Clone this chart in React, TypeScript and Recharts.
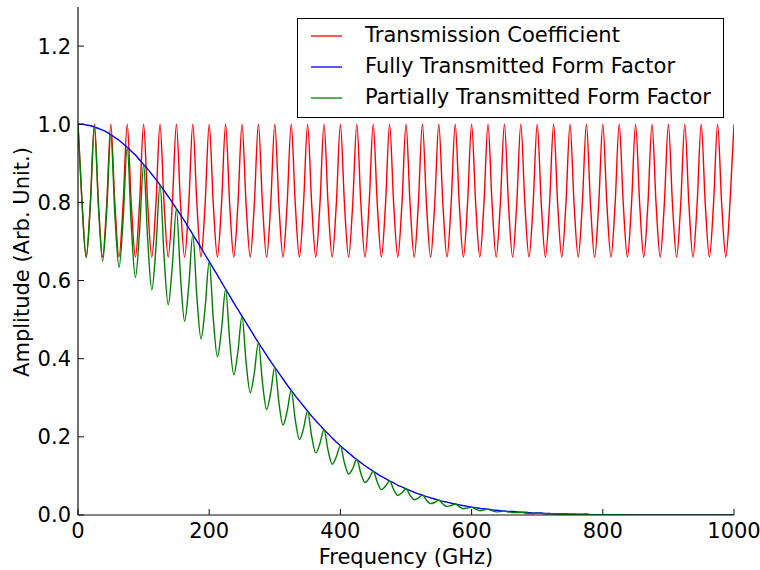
import React from 'react';
import { LineChart, Line, XAxis, YAxis, Legend } from 'recharts';

const FONT = '"DejaVu Sans", "Bitstream Vera Sans", sans-serif';
const FS = 21;

// Frequency grid (GHz)
const frequencyGHz = [
  0, 6.25, 12.5, 18.75, 25, 31.25, 37.5, 43.75,
  50, 56.25, 62.5, 68.75, 75, 81.25, 87.5, 93.75,
  100, 106.25, 112.5, 118.75, 125, 131.25, 137.5, 143.75,
  150, 156.25, 162.5, 168.75, 175, 181.25, 187.5, 193.75,
  200, 206.25, 212.5, 218.75, 225, 231.25, 237.5, 243.75,
  250, 256.25, 262.5, 268.75, 275, 281.25, 287.5, 293.75,
  300, 306.25, 312.5, 318.75, 325, 331.25, 337.5, 343.75,
  350, 356.25, 362.5, 368.75, 375, 381.25, 387.5, 393.75,
  400, 406.25, 412.5, 418.75, 425, 431.25, 437.5, 443.75,
  450, 456.25, 462.5, 468.75, 475, 481.25, 487.5, 493.75,
  500, 506.25, 512.5, 518.75, 525, 531.25, 537.5, 543.75,
  550, 556.25, 562.5, 568.75, 575, 581.25, 587.5, 593.75,
  600, 606.25, 612.5, 618.75, 625, 631.25, 637.5, 643.75,
  650, 656.25, 662.5, 668.75, 675, 681.25, 687.5, 693.75,
  700, 706.25, 712.5, 718.75, 725, 731.25, 737.5, 743.75,
  750, 756.25, 762.5, 768.75, 775, 781.25, 787.5, 793.75,
  800, 806.25, 812.5, 818.75, 825, 831.25, 837.5, 843.75,
  850, 856.25, 862.5, 868.75, 875, 881.25, 887.5, 893.75,
  900, 906.25, 912.5, 918.75, 925, 931.25, 937.5, 943.75,
  950, 956.25, 962.5, 968.75, 975, 981.25, 987.5, 993.75,
  1000,
];

// Transmission Coefficient (red)
const transmission = [
  1, 0.795, 0.66, 0.795, 1, 0.795, 0.66, 0.795,
  1, 0.795, 0.66, 0.795, 1, 0.795, 0.66, 0.795,
  1, 0.795, 0.66, 0.795, 1, 0.795, 0.66, 0.795,
  1, 0.795, 0.66, 0.795, 1, 0.795, 0.66, 0.795,
  1, 0.795, 0.66, 0.795, 1, 0.795, 0.66, 0.795,
  1, 0.795, 0.66, 0.795, 1, 0.795, 0.66, 0.795,
  1, 0.795, 0.66, 0.795, 1, 0.795, 0.66, 0.795,
  1, 0.795, 0.66, 0.795, 1, 0.795, 0.66, 0.795,
  1, 0.795, 0.66, 0.795, 1, 0.795, 0.66, 0.795,
  1, 0.795, 0.66, 0.795, 1, 0.795, 0.66, 0.795,
  1, 0.795, 0.66, 0.795, 1, 0.795, 0.66, 0.795,
  1, 0.795, 0.66, 0.795, 1, 0.795, 0.66, 0.795,
  1, 0.795, 0.66, 0.795, 1, 0.795, 0.66, 0.795,
  1, 0.795, 0.66, 0.795, 1, 0.795, 0.66, 0.795,
  1, 0.795, 0.66, 0.795, 1, 0.795, 0.66, 0.795,
  1, 0.795, 0.66, 0.795, 1, 0.795, 0.66, 0.795,
  1, 0.795, 0.66, 0.795, 1, 0.795, 0.66, 0.795,
  1, 0.795, 0.66, 0.795, 1, 0.795, 0.66, 0.795,
  1, 0.795, 0.66, 0.795, 1, 0.795, 0.66, 0.795,
  1, 0.795, 0.66, 0.795, 1, 0.795, 0.66, 0.795,
  1,
];

// Fully Transmitted Form Factor (blue)
const fullFormFactor = [
  1.0, 1.0, 0.998, 0.996, 0.993, 0.989, 0.985, 0.98,
  0.973, 0.966, 0.959, 0.95, 0.941, 0.931, 0.921, 0.909,
  0.897, 0.885, 0.872, 0.859, 0.845, 0.83, 0.815, 0.8,
  0.784, 0.768, 0.752, 0.735, 0.718, 0.701, 0.684, 0.666,
  0.649, 0.631, 0.614, 0.596, 0.578, 0.561, 0.543, 0.526,
  0.509, 0.492, 0.475, 0.458, 0.441, 0.425, 0.409, 0.393,
  0.378, 0.363, 0.348, 0.333, 0.319, 0.305, 0.292, 0.279,
  0.266, 0.253, 0.241, 0.23, 0.218, 0.208, 0.197, 0.187,
  0.177, 0.168, 0.159, 0.15, 0.142, 0.134, 0.126, 0.119,
  0.112, 0.105, 0.099, 0.093, 0.087, 0.082, 0.076, 0.072,
  0.067, 0.063, 0.058, 0.054, 0.051, 0.047, 0.044, 0.041,
  0.038, 0.035, 0.033, 0.03, 0.028, 0.026, 0.024, 0.022,
  0.02, 0.019, 0.017, 0.016, 0.015, 0.013, 0.012, 0.011,
  0.01, 0.009, 0.009, 0.008, 0.007, 0.007, 0.006, 0.005,
  0.005, 0.005, 0.004, 0.004, 0.003, 0.003, 0.003, 0.003,
  0.002, 0.002, 0.002, 0.002, 0.002, 0.001, 0.001, 0.001,
  0.001, 0.001, 0.001, 0.001, 0.001, 0.001, 0.001, 0,
  0, 0, 0, 0, 0, 0, 0, 0,
  0, 0, 0, 0, 0, 0, 0, 0,
  0, 0, 0, 0, 0, 0, 0, 0,
  0,
];

// Partially Transmitted Form Factor (green)
const partialFormFactor = [
  1.0, 0.795, 0.659, 0.792, 0.993, 0.787, 0.65, 0.779,
  0.973, 0.768, 0.633, 0.755, 0.941, 0.74, 0.608, 0.723,
  0.897, 0.704, 0.576, 0.683, 0.845, 0.66, 0.538, 0.636,
  0.784, 0.61, 0.496, 0.584, 0.718, 0.557, 0.451, 0.53,
  0.649, 0.502, 0.405, 0.474, 0.578, 0.446, 0.359, 0.418,
  0.509, 0.391, 0.313, 0.364, 0.441, 0.338, 0.27, 0.313,
  0.378, 0.288, 0.23, 0.265, 0.319, 0.243, 0.193, 0.221,
  0.266, 0.201, 0.159, 0.183, 0.218, 0.165, 0.13, 0.149,
  0.177, 0.133, 0.105, 0.119, 0.142, 0.106, 0.083, 0.094,
  0.112, 0.084, 0.065, 0.074, 0.087, 0.065, 0.05, 0.057,
  0.067, 0.05, 0.039, 0.043, 0.051, 0.038, 0.029, 0.032,
  0.038, 0.028, 0.022, 0.024, 0.028, 0.021, 0.016, 0.018,
  0.02, 0.015, 0.011, 0.013, 0.015, 0.011, 0.008, 0.009,
  0.01, 0.008, 0.006, 0.006, 0.007, 0.005, 0.004, 0.004,
  0.005, 0.004, 0.003, 0.003, 0.003, 0.002, 0.002, 0.002,
  0.002, 0.002, 0.001, 0.001, 0.002, 0.001, 0.001, 0.001,
  0.001, 0.001, 0.001, 0.001, 0.001, 0, 0, 0,
  0, 0, 0, 0, 0, 0, 0, 0,
  0, 0, 0, 0, 0, 0, 0, 0,
  0, 0, 0, 0, 0, 0, 0, 0,
  0,
];

const xTicks = [0, 200, 400, 600, 800, 1000];
const yTicks = [0, 0.2, 0.4, 0.6, 0.8, 1.0, 1.2];

const seriesNames = [
  'Transmission Coefficient',
  'Fully Transmitted Form Factor',
  'Partially Transmitted Form Factor',
];
const seriesColors = ['#ff0000', '#0000ff', '#008000'];

const renderLegend = () => (
  <div
    style={{
      position: 'relative',
      boxSizing: 'border-box',
      width: 427,
      height: 100,
      border: '1px solid #000',
      background: '#fff',
      fontFamily: FONT,
      fontSize: FS,
      color: '#000',
    }}
  >
    {seriesNames.map((name, i) => (
      <div
        key={name}
        style={{
          position: 'absolute',
          left: 0,
          top: 1 + i * 31,
          height: 31,
          width: 425,
          display: 'flex',
          alignItems: 'center',
        }}
      >
        <svg width={31} height={4} style={{ marginLeft: 13, display: 'block' }}>
          <line x1={0} y1={2} x2={31} y2={2} stroke={seriesColors[i]} strokeWidth={1.3} />
        </svg>
        <span style={{ marginLeft: 23, whiteSpace: 'nowrap', lineHeight: '31px' }}>{name}</span>
      </div>
    ))}
  </div>
);

const tickStyle = { fill: '#000', fontSize: FS, fontFamily: FONT };

export default function App() {
  const data = frequencyGHz.map((f, i) => ({
    f,
    t: transmission[i],
    full: fullFormFactor[i],
    part: partialFormFactor[i],
  }));

  return (
    <div style={{ position: 'absolute', left: 0, top: 0, width: 760, height: 570, background: '#fff' }}>
      <LineChart width={760} height={570} data={data} margin={{ top: 7, right: 26, bottom: 0, left: 0 }}>
        <XAxis
          dataKey="f"
          type="number"
          domain={[0, 1000]}
          ticks={xTicks}
          height={55}
          tickSize={-6}
          tickMargin={14}
          tick={tickStyle}
          axisLine={{ stroke: '#111', strokeWidth: 1.2 }}
          tickLine={{ stroke: '#111' }}
          allowDataOverflow
          label={{
            content: () => (
              <text x={406} y={564} textAnchor="middle" fill="#000" fontSize={FS} fontFamily={FONT}>
                Frequency (GHz)
              </text>
            ),
          }}
        />
        <XAxis
          xAxisId="top"
          orientation="top"
          dataKey="f"
          type="number"
          domain={[0, 1000]}
          ticks={xTicks}
          height={0}
          tickSize={-6}
          tick={false}
          axisLine={{ stroke: '#111', strokeWidth: 1.2 }}
          tickLine={{ stroke: '#111' }}
          allowDataOverflow
        />
        <YAxis
          type="number"
          domain={[0, 1.3]}
          ticks={yTicks}
          width={78}
          tickSize={-6}
          tickMargin={13}
          tick={tickStyle}
          tickFormatter={(v: number) => v.toFixed(1)}
          axisLine={{ stroke: '#111', strokeWidth: 1.2 }}
          tickLine={{ stroke: '#111' }}
          allowDataOverflow
          label={{
            content: () => (
              <text
                x={29}
                y={262}
                transform="rotate(-90 29 262)"
                textAnchor="middle"
                fill="#000"
                fontSize={FS}
                fontFamily={FONT}
              >
                Amplitude (Arb. Unit.)
              </text>
            ),
          }}
        />
        <YAxis
          yAxisId="right"
          orientation="right"
          type="number"
          domain={[0, 1.3]}
          ticks={yTicks}
          width={0}
          tickSize={-6}
          tick={false}
          axisLine={{ stroke: '#111', strokeWidth: 1.2 }}
          tickLine={{ stroke: '#111' }}
          allowDataOverflow
        />
        <Line
          dataKey="t"
          name={seriesNames[0]}
          type="monotone"
          stroke={seriesColors[0]}
          strokeWidth={1.4}
          dot={false}
          activeDot={false}
          isAnimationActive={false}
        />
        <Line
          dataKey="full"
          name={seriesNames[1]}
          type="monotone"
          stroke={seriesColors[1]}
          strokeWidth={1.4}
          dot={false}
          activeDot={false}
          isAnimationActive={false}
        />
        <Line
          dataKey="part"
          name={seriesNames[2]}
          type="monotone"
          stroke={seriesColors[2]}
          strokeWidth={1.4}
          dot={false}
          activeDot={false}
          isAnimationActive={false}
        />
        <Legend
          layout="vertical"
          align="center"
          verticalAlign="middle"
          content={renderLegend}
          wrapperStyle={{ position: 'absolute', left: 297, top: 18, width: 427, height: 100 }}
        />
      </LineChart>
    </div>
  );
}
